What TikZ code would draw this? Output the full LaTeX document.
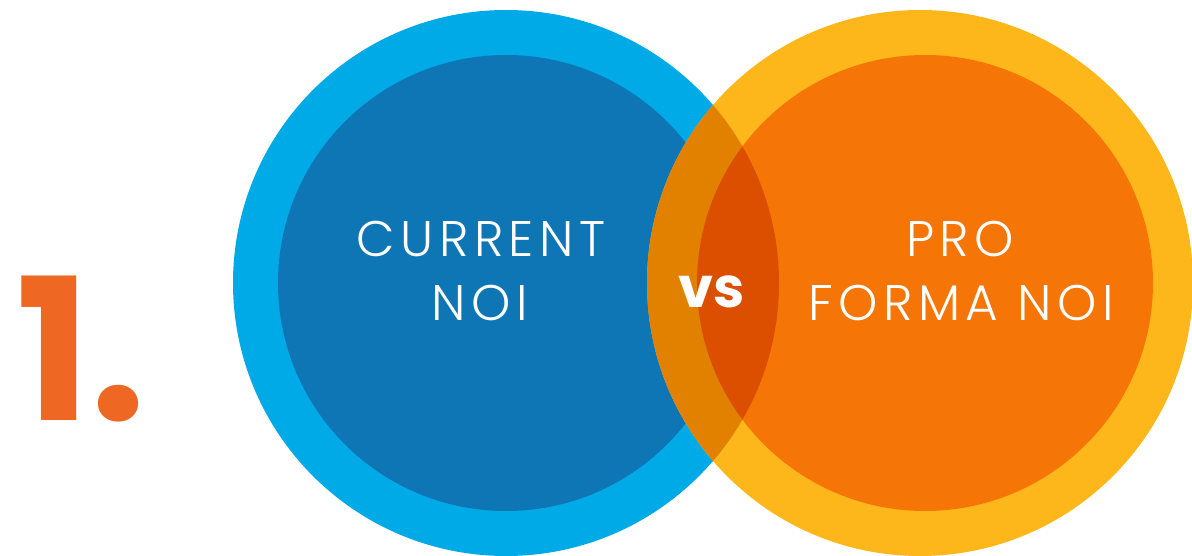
\documentclass[tikz,border=0pt]{standalone}
\usepackage{fontspec}
\newfontfamily\labelfont{Poppins}[UprightFont=* Light, LetterSpace=11]
\newfontfamily\heavyfont{Poppins}[UprightFont=* Bold]
\definecolor{skyblue}{HTML}{00AAE7}
\definecolor{deepblue}{HTML}{0E76B4}
\definecolor{amber}{HTML}{FDB71B}
\definecolor{tangerine}{HTML}{F57507}
\definecolor{ringmix}{HTML}{E28100}
\definecolor{coremix}{HTML}{DC4F00}
\definecolor{numorange}{HTML}{EE6723}
\tikzset{
  circlelabel/.style={text=white, anchor=base, inner sep=0pt,
    font=\labelfont\fontsize{50}{50}\selectfont},
}
\begin{document}
\begin{tikzpicture}[x=1pt,y=-1pt]
      \def\bx{506};
      \def\ox{920};
      \def\cy{283};
      \def\R{273pt};
      \def\r{228pt};
      \useasboundingbox (0,0) rectangle (1192,556);
      % the two rings
      \fill[skyblue] (\bx,\cy) circle [radius=\R];
      \fill[deepblue] (\bx,\cy) circle [radius=\r];
      \fill[amber] (\ox,\cy) circle [radius=\R];
      \fill[tangerine] (\ox+5,\cy) circle [radius=\r];
      % overlap of the two
      \begin{scope}
        \clip (\bx,\cy) circle [radius=\R];
        \fill[ringmix] (\ox,\cy) circle [radius=\R];
        \fill[coremix] (\ox+5,\cy) circle [radius=\r];
      \end{scope}
      % labels
      \node[circlelabel] (cur1) at (481,257) {CURRENT};
      \node[circlelabel] (cur2) at (480,320) {NOI};
      \node[circlelabel] (pro1) at (960,257) {PRO};
      \node[circlelabel] (pro2) at (961,320) {FORMA NOI};
      \node[text=white, anchor=base, inner sep=0pt,
        font=\heavyfont\fontsize{56}{56}\selectfont] (vs) at (712,307) {vs};
      \node[text=numorange, anchor=base west, inner sep=0pt,
        font=\heavyfont\fontsize{198}{198}\selectfont] (num) at (16,420) {1.};
\end{tikzpicture}
\end{document}
